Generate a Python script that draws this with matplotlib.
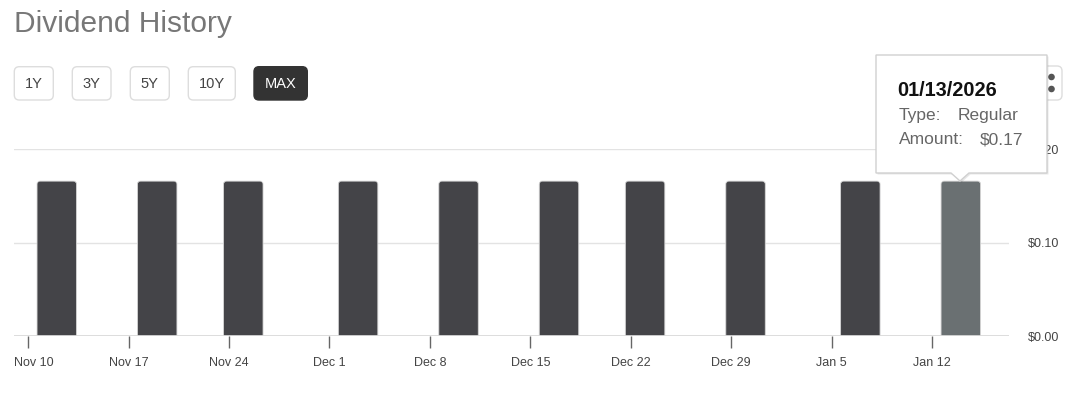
#!/usr/bin/env python3
"""Dividend history bar chart with range buttons and hover tooltip."""
import numpy as np
import matplotlib
matplotlib.use("Agg")
import matplotlib.pyplot as plt
import matplotlib.dates as mdates
import matplotlib.transforms as mtransforms
from matplotlib.patches import FancyBboxPatch, Polygon, Circle

plt.rcParams["font.family"] = ["Liberation Sans", "DejaVu Sans"]

# data
pay_dates = np.array(["2025-11-12", "2025-11-19", "2025-11-25", "2025-12-03", "2025-12-10",
                      "2025-12-17", "2025-12-23", "2025-12-30", "2026-01-07", "2026-01-14"],
                     dtype="datetime64[D]")
amounts = [0.166, 0.166, 0.166, 0.166, 0.166, 0.166, 0.166, 0.166, 0.166, 0.166]
highlight = 9

tick_dates = np.array(["2025-11-10", "2025-11-17", "2025-11-24", "2025-12-01", "2025-12-08",
                       "2025-12-15", "2025-12-22", "2025-12-29", "2026-01-05", "2026-01-12"],
                      dtype="datetime64[D]")
tick_labels = ["Nov 10", "Nov 17", "Nov 24", "Dec 1", "Dec 8",
               "Dec 15", "Dec 22", "Dec 29", "Jan 5", "Jan 12"]
y_ticks = [0.0, 0.10, 0.20]
y_labels = ["$0.00", "$0.10", "$0.20"]

range_buttons = ["1Y", "3Y", "5Y", "10Y", "MAX"]
active_button = "MAX"

tip_date = "01/13/2026"
tip_type = "Regular"
tip_amount = "$0.17"

W, H = 1072, 396
DPI = 100
BAR_DAYS = 2.75


def px(x, y):
    """pixel position (top-left origin) -> inches for fig.dpi_scale_trans"""
    return x / DPI, (H - y) / DPI


def main():
    fig = plt.figure(figsize=(W / DPI, H / DPI), dpi=DPI, facecolor="white")
    ax = fig.add_axes([14 / W, 60 / H, (1009 - 14) / W, (246.6 - 60) / H])

    ax.set_ylim(0, 0.20)
    t0 = mdates.date2num(tick_dates[0])
    ax.set_xlim(t0 - 0.98, t0 + 68.36)

    # bars with rounded top corners (aspect taken from the axes transform);
    # the bottom is pushed below the clip edge so only the top looks rounded
    x = mdates.date2num(pay_dates)
    (ax0, ay0), (ax1, ay1) = ax.transData.transform([(t0, 0.0), (t0 + 1, 0.1)])
    aspect = (0.1 / (ay1 - ay0)) / (1.0 / (ax1 - ax0))
    radius = 3.0 / (ax1 - ax0)
    drop = radius * aspect
    for i, (xi, val) in enumerate(zip(x, amounts)):
        ax.add_patch(FancyBboxPatch(
            (xi - BAR_DAYS / 2, -drop), BAR_DAYS, val + drop,
            boxstyle=f"round,pad=0,rounding_size={radius}", mutation_aspect=aspect,
            facecolor="#6a7072" if i == highlight else "#444448",
            edgecolor="#d6d6d6", linewidth=0.6, zorder=3))

    for s in ax.spines.values():
        s.set_visible(False)
    ax.set_axisbelow(True)
    ax.yaxis.grid(True, color="#e3e3e3", lw=1)
    ax.axhline(0, color="#dadada", lw=2, zorder=4)

    ax.yaxis.tick_right()
    ax.set_yticks(y_ticks)
    ax.set_yticklabels(y_labels)
    ax.tick_params(axis="y", length=0, pad=13.7, labelsize=9, labelcolor="#444444")

    ax.set_xticks(mdates.date2num(tick_dates))
    ax.set_xticklabels(tick_labels)
    ax.tick_params(axis="x", length=8.6, width=1, color="#666666", pad=6.5,
                   labelsize=9, labelcolor="#444444")
    first = ax.get_xticklabels()[0]
    first.set_transform(first.get_transform()
                        + mtransforms.ScaledTranslation(6 / DPI, 0, fig.dpi_scale_trans))

    tr = fig.dpi_scale_trans

    # title
    fig.text(*px(13.5, 32.3), "Dividend History", transform=tr, fontsize=21.5,
             color="#777777", va="baseline", ha="left")

    # range buttons
    spans = [(14.3, 53.3), (72.3, 111), (130.3, 169.3), (188.3, 235.3), (254, 307.3)]
    for label, (x0, x1) in zip(range_buttons, spans):
        active = label == active_button
        bx, by = px(x0, 100)
        fig.patches.append(FancyBboxPatch(
            (bx, by), (x1 - x0) / DPI, 33.3 / DPI,
            boxstyle="round,pad=0,rounding_size=0.05", transform=tr,
            facecolor="#333333" if active else "white",
            edgecolor="#333333" if active else "#dddddd", lw=1, zorder=2))
        fig.text(*px((x0 + x1) / 2, 83.5), label, transform=tr, fontsize=10.5,
                 color="white" if active else "#444444", ha="center", va="center")

    # share button (mostly hidden behind tooltip)
    sx, sy = px(1026, 100)
    fig.patches.append(FancyBboxPatch(
        (sx, sy), 36 / DPI, 34 / DPI, boxstyle="round,pad=0,rounding_size=0.05",
        transform=tr, facecolor="white", edgecolor="#dddddd", lw=1, zorder=2))
    for cx, cy in [(1051.5, 77), (1051.5, 89), (1040, 83)]:
        fig.patches.append(Circle(px(cx, cy), 2.6 / DPI, transform=tr,
                                  color="#555555", zorder=3))

    # tooltip
    outline = [(876, 55), (1047, 55), (1047, 173), (969, 173), (960, 181),
               (951, 173), (876, 173)]
    shadow = [px(a + 1.5, b + 1.5) for a, b in outline]
    fig.patches.append(Polygon(shadow, closed=True, transform=tr,
                               facecolor="#00000018", edgecolor="none", zorder=9))
    fig.patches.append(Polygon([px(a, b) for a, b in outline], closed=True, transform=tr,
                               facecolor="white", edgecolor="#d0d0d0", lw=1, zorder=10))
    fig.text(*px(897, 95.7), tip_date, transform=tr, fontsize=14.3, fontweight="bold",
             color="#111111", va="baseline", zorder=11)
    fig.text(*px(899, 120), "Type:", transform=tr, fontsize=12.5,
             color="#666666", va="baseline", zorder=11)
    fig.text(*px(958, 120), tip_type, transform=tr, fontsize=12.5,
             color="#666666", va="baseline", zorder=11)
    fig.text(*px(899, 144.3), "Amount:", transform=tr, fontsize=12.5,
             color="#666666", va="baseline", zorder=11)
    fig.text(*px(980, 144.3), tip_amount, transform=tr, fontsize=12.5,
             color="#666666", va="baseline", zorder=11)

    fig.savefig("out.png", dpi=DPI, facecolor="white")
    plt.close(fig)


if __name__ == "__main__":
    main()
